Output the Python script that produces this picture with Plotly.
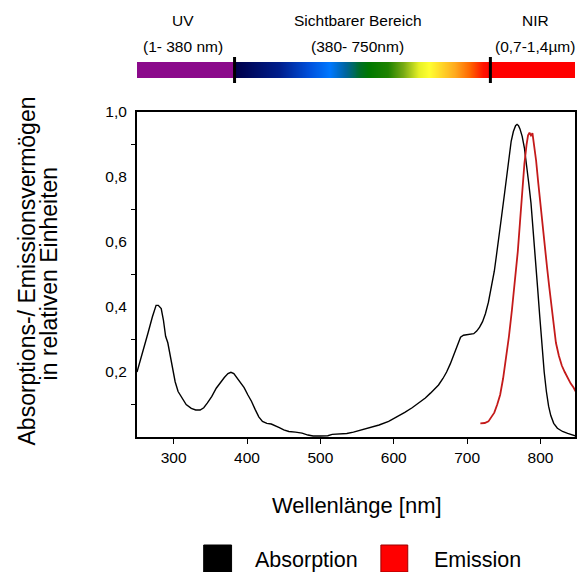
import numpy as np
import plotly.graph_objects as go

# ---------------- data ----------------
abs_nm = [250, 258, 265, 271, 276, 279, 283, 286, 289, 292, 295, 298, 302, 306, 311, 317, 324, 330,
          336, 341, 346, 352, 358, 364, 369, 374, 378, 382, 386, 391, 396, 401, 406, 411, 416, 421,
          427, 433, 438, 444, 450, 457, 466, 475, 483, 490, 500, 510, 516, 525, 536, 545, 555, 566,
          580, 593, 605, 615, 625, 635, 643, 650, 656, 661, 667, 672, 677, 681, 685, 688, 691, 695,
          700, 705, 709, 713, 717, 721, 725, 729, 733, 737, 740, 744, 747, 751, 754, 757, 760, 763,
          766, 768, 770, 772, 775, 778, 781, 784, 787, 790, 793, 796, 799, 802, 805, 808, 811, 814,
          818, 823, 830, 837, 843, 848]
abs_val = [0.20, 0.26, 0.32, 0.37, 0.405, 0.405, 0.395, 0.36, 0.31, 0.29, 0.25, 0.21, 0.17, 0.14,
           0.12, 0.10, 0.088, 0.083, 0.083, 0.09, 0.105, 0.125, 0.15, 0.17, 0.183, 0.195, 0.199,
           0.195, 0.183, 0.168, 0.152, 0.13, 0.11, 0.085, 0.062, 0.048, 0.042, 0.04, 0.036, 0.029,
           0.022, 0.017, 0.015, 0.012, 0.006, 0.003, 0.003, 0.004, 0.008, 0.009, 0.011, 0.015,
           0.021, 0.027, 0.037, 0.048, 0.062, 0.076, 0.09, 0.106, 0.12, 0.135, 0.148, 0.16, 0.18,
           0.2, 0.225, 0.25, 0.275, 0.295, 0.307, 0.313, 0.315, 0.316, 0.318, 0.326, 0.338, 0.355,
           0.38, 0.415, 0.46, 0.51, 0.56, 0.62, 0.68, 0.75, 0.81, 0.865, 0.91, 0.94, 0.958, 0.962,
           0.958, 0.948, 0.925, 0.89, 0.84, 0.78, 0.72, 0.64, 0.55, 0.46, 0.37, 0.28, 0.2, 0.14,
           0.095, 0.066, 0.042, 0.027, 0.017, 0.011, 0.006, 0.003]

em_nm = [718, 724, 729, 733, 737, 741, 745, 749, 753, 757, 761, 765, 769, 772, 775, 778, 781, 783,
         785, 787, 789, 791, 794, 797, 800, 803, 806, 809, 812, 815, 818, 821, 825, 829, 833, 837,
         841, 845, 848]
em_val = [0.042, 0.043, 0.048, 0.06, 0.075, 0.1, 0.13, 0.18, 0.24, 0.31, 0.39, 0.47, 0.57, 0.66,
          0.76, 0.84, 0.9, 0.928, 0.936, 0.928, 0.935, 0.905, 0.85, 0.78, 0.71, 0.64, 0.58, 0.52,
          0.46, 0.4, 0.34, 0.29, 0.25, 0.22, 0.2, 0.18, 0.165, 0.152, 0.14]

x_ticks = [300, 400, 500, 600, 700, 800]
y_labels = [0.2, 0.4, 0.6, 0.8, 1.0]
y_minor = [0.1, 0.3, 0.5, 0.7, 0.9]

region_titles = ["UV", "Sichtbarer Bereich", "NIR"]
region_ranges = ["(1- 380 nm)", "(380- 750nm)", "(0,7-1,4µm)"]
legend_names = ["Absorption", "Emission"]

# spectrum colour stops (fraction within visible segment, colour)
spectrum_stops = [(0.00, "#00004a"), (0.175, "#001e8c"), (0.29, "#0050dc"), (0.37, "#0078ff"),
                  (0.43, "#0064a0"), (0.49, "#006e28"), (0.525, "#007800"), (0.60, "#1e8200"),
                  (0.66, "#78aa14"), (0.72, "#e6f028"), (0.76, "#ffff32"), (0.86, "#ffaa1e"),
                  (0.92, "#ff6400"), (0.97, "#ff1400"), (1.00, "#ff0000")]
UV_COLOR = "#8b0a8b"
NIR_COLOR = "#ff0000"

# ---------------- layout geometry ----------------
W, H = 579, 572
ML, MR, MT, MB = 137, 2, 55, 135
PW, PH = W - ML - MR, H - MT - MB
BOTTOM = H - MB  # pixel y of plot-area bottom


def px(xp):
    return (xp - ML) / PW


def py(yp):
    return (BOTTOM - yp) / PH


FONT = "Liberation Sans, Arial, sans-serif"
RED_LINE = "#c41a1a"

fig = go.Figure()

fig.add_trace(go.Scatter(x=abs_nm, y=abs_val, mode="lines", name=legend_names[0],
                         line=dict(color="black", width=1.4), showlegend=False))
fig.add_trace(go.Scatter(x=em_nm, y=em_val, mode="lines", name=legend_names[1],
                         line=dict(color=RED_LINE, width=1.8), showlegend=False))

# colour bar (spectrum) as heatmap on its own axes
bar_px = PW + 1
uv_end, vis_end = 99, 356
zrow = []
for i in range(bar_px):
    c = i + 0.5
    if c < uv_end:
        zrow.append(0.0)
    elif c < vis_end:
        zrow.append(0.01 + 0.98 * (c - uv_end) / (vis_end - uv_end))
    else:
        zrow.append(1.0)
cscale = [[0.0, UV_COLOR], [0.005, UV_COLOR]]
for f, col in spectrum_stops:
    cscale.append([0.01 + 0.98 * f, col])
cscale += [[0.995, NIR_COLOR], [1.0, NIR_COLOR]]
fig.add_trace(go.Heatmap(z=[zrow], x0=0.5, dx=1, y=[0], colorscale=cscale, zmin=0, zmax=1,
                         showscale=False, hoverinfo="skip", xaxis="x2", yaxis="y2"))

fig.update_layout(
    width=W, height=H,
    margin=dict(l=ML, r=MR, t=MT, b=MB, pad=0),
    paper_bgcolor="white", plot_bgcolor="white",
    separators=",.",
    font=dict(family=FONT, size=15, color="black"),
    showlegend=False,
    xaxis=dict(range=[250, 847], tickvals=x_ticks, ticks="outside", ticklen=5, tickwidth=1.2,
               tickcolor="black", showline=True, linewidth=2, linecolor="black", mirror=True,
               showgrid=False, zeroline=False, tickfont=dict(size=15.5), anchor="y"),
    yaxis=dict(range=[0, 1.0], domain=[0, py(112)], tickvals=y_labels, tickformat=".1f",
               ticks="", showline=True, linewidth=2, linecolor="black", mirror=True,
               showgrid=False, zeroline=False, tickfont=dict(size=15.5), ticklabelstandoff=5,
               minor=dict(tickvals=y_minor, ticks="outside", ticklen=4, tickcolor="black",
                          tickwidth=1.2, showgrid=False)),
    xaxis2=dict(domain=[0, 1], range=[0, bar_px], visible=False, anchor="y2"),
    yaxis2=dict(domain=[py(78), py(62)], range=[-0.5, 0.5], visible=False, anchor="x2"),
)

shapes = []
for xp in (235, 492):
    shapes.append(dict(type="line", xref="paper", yref="paper", x0=px(xp), x1=px(xp),
                       y0=py(57), y1=py(83), line=dict(color="black", width=3)))
# legend squares
shapes.append(dict(type="rect", xref="paper", yref="paper", x0=px(204), x1=px(232),
                   y0=py(545), y1=py(572), fillcolor="black", line=dict(color="black", width=1)))
shapes.append(dict(type="rect", xref="paper", yref="paper", x0=px(382), x1=px(409),
                   y0=py(545), y1=py(572), fillcolor="#ff0000", line=dict(color="#9a0000", width=1)))
fig.update_layout(shapes=shapes)

ann = []
for t, r, xc in zip(region_titles, region_ranges, (183, 359, 537)):
    ann.append(dict(text=t, x=px(xc), y=py(20), xref="paper", yref="paper", showarrow=False,
                    xanchor="center", yanchor="middle", font=dict(size=15.5)))
    ann.append(dict(text=r, x=px(xc), y=py(47), xref="paper", yref="paper", showarrow=False,
                    xanchor="center", yanchor="middle", font=dict(size=15.5)))
ann.append(dict(text="Wellenlänge [nm]", x=px(358), y=py(505), xref="paper", yref="paper",
                showarrow=False, xanchor="center", yanchor="middle", font=dict(size=22)))
ann.append(dict(text="Absorptions-/ Emissionsvermögen", x=px(26), y=py(271), xref="paper",
                yref="paper", showarrow=False, textangle=-90, xanchor="center",
                yanchor="middle", font=dict(size=23)))
ann.append(dict(text="in relativen Einheiten", x=px(49), y=py(273), xref="paper",
                yref="paper", showarrow=False, textangle=-90, xanchor="center",
                yanchor="middle", font=dict(size=23)))
ann.append(dict(text=legend_names[0], x=px(254), y=py(560), xref="paper", yref="paper",
                showarrow=False, xanchor="left", yanchor="middle", font=dict(size=21.5)))
ann.append(dict(text=legend_names[1], x=px(433), y=py(560), xref="paper", yref="paper",
                showarrow=False, xanchor="left", yanchor="middle", font=dict(size=21.5)))
fig.update_layout(annotations=ann)

fig.write_html("out.html")
